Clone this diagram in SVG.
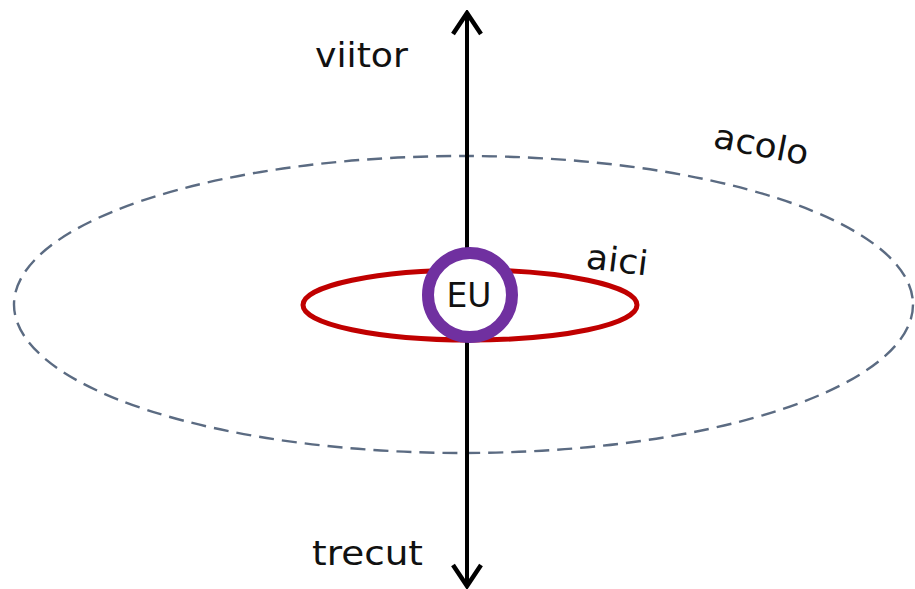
<svg xmlns="http://www.w3.org/2000/svg" width="915" height="589" viewBox="0 0 915 589">
<style>
text{font-family:"DejaVu Sans",Verdana,sans-serif;fill:#111}
.lbl{font-size:34px}
</style>
<defs>
<marker id="arr" viewBox="0 0 26 32" refX="23" refY="16" markerWidth="26" markerHeight="32" markerUnits="userSpaceOnUse" orient="auto-start-reverse">
<path d="M2,2 L23,16 L2,30" fill="none" stroke="#000" stroke-width="4.5" stroke-linejoin="miter"/>
</marker>
</defs>
<rect width="915" height="589" fill="#fff"/>
<g id="acolo">
<ellipse cx="463.5" cy="304.5" rx="449.5" ry="148.5" fill="none" stroke="#5b6b82" stroke-width="2.4" stroke-dasharray="15 8"/>
<text class="lbl" x="712" y="147" transform="rotate(11 712 147)" textLength="96" lengthAdjust="spacingAndGlyphs">acolo</text>
</g>
<g id="aici">
<ellipse cx="470" cy="305" rx="167" ry="35" fill="none" stroke="#c00000" stroke-width="5"/>
<text class="lbl" x="585" y="268" font-size="31" transform="rotate(7 585 268)" textLength="62" lengthAdjust="spacingAndGlyphs">aici</text>
</g>
<g id="connectors">
<line x1="467" y1="13" x2="467" y2="586" stroke="#000" stroke-width="4" marker-start="url(#arr)" marker-end="url(#arr)"/>
</g>
<g id="eu">
<circle cx="470" cy="295" r="42" fill="#fff" stroke="#7030a0" stroke-width="12"/>
<text x="469" y="307" font-size="33" text-anchor="middle">EU</text>
</g>
<g id="viitor">
<text class="lbl" x="315" y="67" textLength="93" lengthAdjust="spacingAndGlyphs">viitor</text>
</g>
<g id="trecut">
<text class="lbl" x="312" y="565" textLength="111" lengthAdjust="spacingAndGlyphs">trecut</text>
</g>
</svg>
